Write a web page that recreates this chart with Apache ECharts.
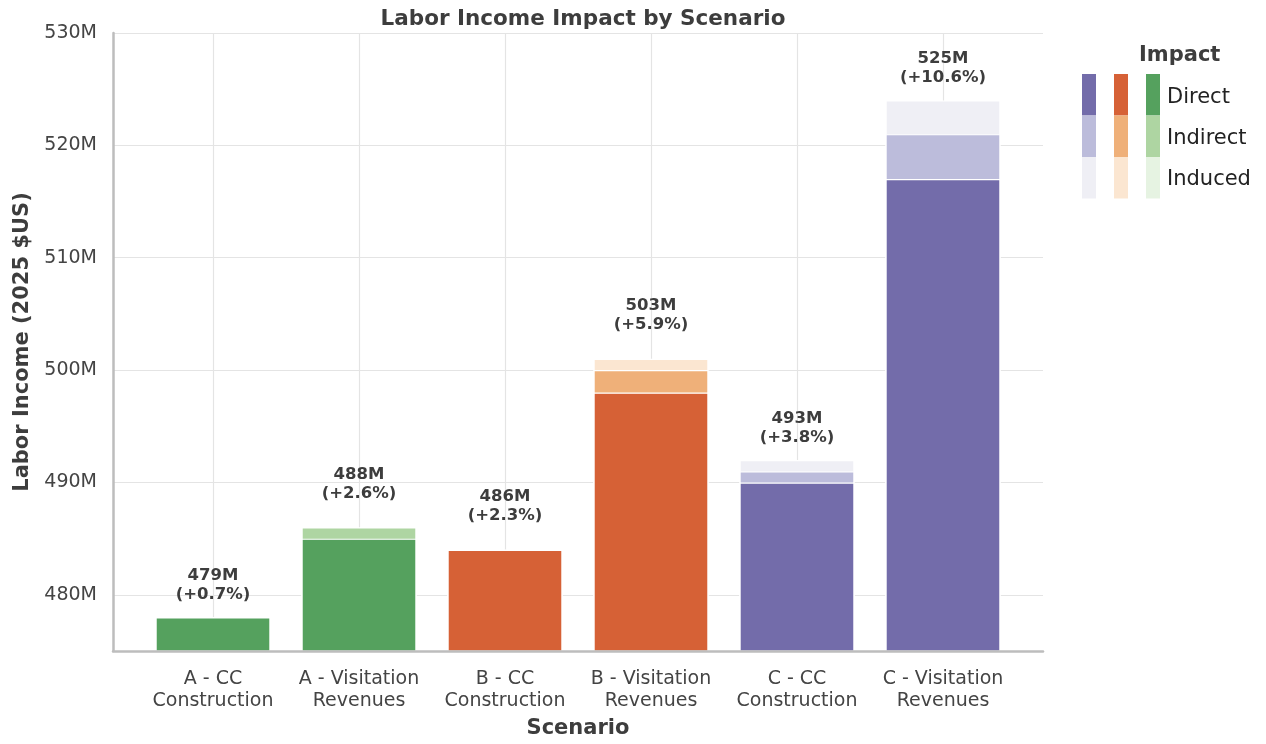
<html>
<head>
    <meta charset="UTF-8">
    <title>Labor Income Impact by Scenario</title>
    <script src="https://cdn.jsdelivr.net/npm/echarts@6/dist/echarts.min.js"></script>
</head>
<body style="margin:0">
    <div id="container" style="width: 1266px;height:744px;"></div>
</body>
<script>
    // data (millions $US)
    var categories = ['A - CC\nConstruction', 'A - Visitation\nRevenues', 'B - CC\nConstruction',
        'B - Visitation\nRevenues', 'C - CC\nConstruction', 'C - Visitation\nRevenues'];
    var groups = [0, 0, 1, 1, 2, 2];   // 0 = A (green), 1 = B (orange), 2 = C (purple)
    var direct = [478, 485, 484, 498, 490, 517];
    var indirect = [0, 1, 0, 2, 1, 4];
    var induced = [0, 0, 0, 1, 1, 3];
    var totals = [479, 488, 486, 503, 493, 525];
    var changes = ['+0.7%', '+2.6%', '+2.3%', '+5.9%', '+3.8%', '+10.6%'];
    var yTicks = [480, 490, 500, 510, 520, 530];
    var impactNames = ['Direct', 'Indirect', 'Induced'];

    // colours per scenario group, dark -> light
    var directColors = ['#55a15e', '#d66136', '#736caa'];
    var indirectColors = ['#aed5a2', '#efb079', '#bcbcdb'];
    var inducedColors = ['#e6f3e2', '#fbe6d1', '#efeff5'];

    var font = 'DejaVu Sans';
    var mycharts = echarts.init(document.getElementById('container'));

    // stacking on a value x axis stacks the wrong dimension, so the segments
    // are drawn as overlapping bars from their running totals
    var topDirect = direct.slice();
    var topIndirect = direct.map(function (v, i) { return v + indirect[i]; });
    var topInduced = topIndirect.map(function (v, i) { return v + induced[i]; });

    function barSeries(name, values, colors) {
        return {
            name: name,
            type: 'bar',
            barWidth: 115,
            barGap: '-100%',
            z: 3,
            data: values.map(function (v, i) { return [i, v]; }),
            itemStyle: {
                color: function (p) { return colors[groups[p.dataIndex]]; },
                borderColor: '#ffffff',
                borderWidth: 1.2
            }
        };
    }

    // legend patches: columns purple, orange, green
    var legendCols = [2, 1, 0];
    var legendSets = [directColors, indirectColors, inducedColors];
    var graphics = [{
        type: 'text', left: 1139, top: 45,
        style: { text: 'Impact', font: 'bold 21px ' + font, fill: '#3d3d3d' }
    }];
    legendCols.forEach(function (g, c) {
        legendSets.forEach(function (set, r) {
            graphics.push({
                type: 'rect',
                shape: { x: 1082 + 32 * c, y: 74 + 41.5 * r, width: 14, height: 41.5 },
                style: { fill: set[g] }
            });
        });
    });
    impactNames.forEach(function (n, r) {
        graphics.push({
            type: 'text', x: 1167, y: 98 + 41 * r,
            style: { text: n, font: '21px ' + font, fill: '#222', verticalAlign: 'middle' }
        });
    });

    var option = {
        animation: false,
        backgroundColor: '#ffffff',
        textStyle: { fontFamily: font },
        title: {
            text: 'Labor Income Impact by Scenario',
            left: 578, top: 3, textAlign: 'center',
            textStyle: { fontFamily: font, fontWeight: 'bold', fontSize: 21.5, color: '#3d3d3d' }
        },
        grid: { left: 113, right: 223, top: 33, bottom: 93 },
        xAxis: {
            type: 'value',
            z: 5,
            min: -0.685,
            max: 5.685,
            name: 'Scenario',
            nameLocation: 'middle',
            nameGap: 67,
            nameTextStyle: { fontFamily: font, fontWeight: 'bold', fontSize: 21, color: '#3d3d3d' },
            axisLine: { show: true, onZero: false, lineStyle: { color: '#bdbdbd', width: 2.5 } },
            axisTick: { show: false },
            splitLine: { show: false },
            axisLabel: {
                customValues: [0, 1, 2, 3, 4, 5],
                formatter: function (v) { return categories[Math.round(v)]; },
                fontFamily: font, fontSize: 19, color: '#444', lineHeight: 22, margin: 17
            }
        },
        yAxis: {
            type: 'value',
            z: 5,
            min: 475,
            max: 530,
            name: 'Labor Income (2025 $US)',
            nameLocation: 'middle',
            nameGap: 80,
            nameTextStyle: { fontFamily: font, fontWeight: 'bold', fontSize: 21, color: '#3d3d3d' },
            axisLine: { show: true, onZero: false, lineStyle: { color: '#bdbdbd', width: 2.5 } },
            axisTick: { show: false },
            splitLine: { show: false },
            axisLabel: {
                customValues: yTicks,
                formatter: function (v) { return v + 'M'; },
                fontFamily: font, fontSize: 19, color: '#444', margin: 16
            }
        },
        graphic: graphics,
        series: [
            {
                // grid lines
                type: 'line',
                data: [],
                z: 1,
                silent: true,
                markLine: {
                    z: 1,
                    silent: true,
                    symbol: 'none',
                    label: { show: false },
                    lineStyle: { color: '#e4e4e4', width: 1.2, type: 'solid' },
                    data: yTicks.map(function (v) { return { yAxis: v }; })
                        .concat(categories.map(function (c, i) { return { xAxis: i }; }))
                }
            },
            barSeries('Induced', topInduced, inducedColors),
            barSeries('Indirect', topIndirect, indirectColors),
            barSeries('Direct', topDirect, directColors),
            {
                // total labels above bars
                type: 'scatter',
                symbolSize: 0,
                z: 4,
                itemStyle: { opacity: 1 },
                data: totals.map(function (v, i) { return [i, v]; }),
                label: {
                    show: true,
                    position: 'top',
                    distance: 2,
                    formatter: function (p) {
                        return totals[p.dataIndex] + 'M\n(' + changes[p.dataIndex] + ')';
                    },
                    fontFamily: font, fontWeight: 'bold', fontSize: 16.5, lineHeight: 19, color: '#3d3d3d'
                }
            }
        ]
    };

    mycharts.setOption(option);
</script>
</html>
